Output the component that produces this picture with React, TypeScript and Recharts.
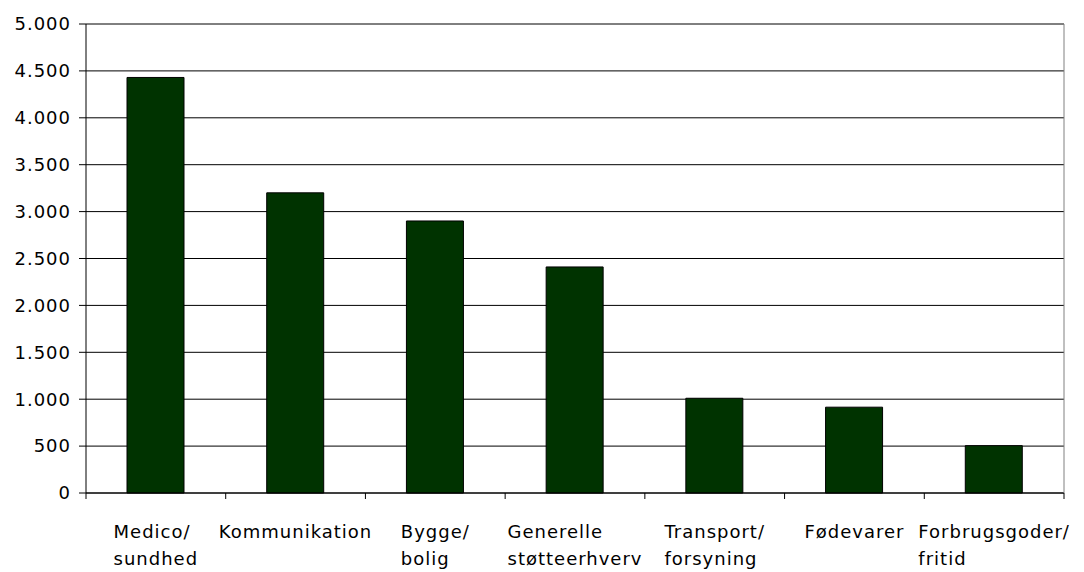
import { BarChart, Bar, XAxis, YAxis, CartesianGrid, ReferenceLine } from "recharts";

// kategorier, med linjeskift som i originalen
const categories = [
  "Medico/\nsundhed",
  "Kommunikation",
  "Bygge/\nbolig",
  "Generelle\nstøtteerhverv",
  "Transport/\nforsyning",
  "Fødevarer",
  "Forbrugsgoder/\nfritid",
];
const values = [4430, 3200, 2900, 2410, 1010, 915, 505];
const yTicks = [0, 500, 1000, 1500, 2000, 2500, 3000, 3500, 4000, 4500, 5000];

const W = 1084;
const H = 572;
const MARGIN = { top: 24, right: 0, bottom: 0, left: 0 };
const Y_WIDTH = 86;
const RIGHT_W = 20;
const FONT = "'DejaVu Sans', Verdana, sans-serif";
const FS = 18;
const LS = 1;

const data = categories.map((name, i) => ({ name, value: values[i] }));

const fmt = (v: number) => String(v).replace(/\B(?=(\d{3})+(?!\d))/g, ".");

let ctx: CanvasRenderingContext2D | null = null;
function textWidth(s: string) {
  if (!ctx) ctx = document.createElement("canvas").getContext("2d");
  if (!ctx) return s.length * FS * 0.6;
  ctx.font = `${FS}px ${FONT}`;
  return ctx.measureText(s).width + s.length * LS;
}

const band = (W - Y_WIDTH - RIGHT_W) / categories.length;

function CatTick(props: any) {
  const { x, y, payload, index } = props;
  const lines: string[] = String(payload.value).split("\n");
  const maxW = Math.max(...lines.map(textWidth));
  const left = x - maxW / 2;
  return (
    <g>
      <line x1={x - band / 2} x2={x - band / 2} y1={y} y2={y + 6} stroke="#000" />
      {index === categories.length - 1 && (
        <line x1={x + band / 2} x2={x + band / 2} y1={y} y2={y + 6} stroke="#000" />
      )}
      <text
        x={left}
        y={y + 45}
        textAnchor="start"
        fill="#000"
        style={{ fontFamily: FONT, fontSize: FS, letterSpacing: LS }}
      >
        {lines.map((l, i) => (
          <tspan key={i} x={left} dy={i === 0 ? 0 : 27}>
            {l}
          </tspan>
        ))}
      </text>
    </g>
  );
}

export default function App() {
  return (
    <div style={{ position: "absolute", left: 0, top: 0, width: W, height: H, background: "#fff" }}>
      <BarChart width={W} height={H} data={data} margin={MARGIN} barSize={57}>
        <CartesianGrid vertical={false} stroke="#000" />
        <XAxis
          dataKey="name"
          interval={0}
          height={79}
          axisLine={{ stroke: "#000" }}
          tickLine={false}
          tickSize={0}
          tickMargin={0}
          tick={<CatTick />}
        />
        <YAxis
          width={Y_WIDTH}
          domain={[0, 5000]}
          ticks={yTicks}
          interval={0}
          tickFormatter={fmt}
          axisLine={{ stroke: "#000" }}
          tickLine={{ stroke: "#000" }}
          tickSize={7}
          tickMargin={8}
          tick={{ fill: "#000", fontSize: FS, fontFamily: FONT, letterSpacing: LS }}
        />
        <YAxis
          yAxisId="r"
          orientation="right"
          width={RIGHT_W}
          domain={[0, 5000]}
          tick={false}
          tickLine={false}
          axisLine={{ stroke: "#808080" }}
        />
        <ReferenceLine y={5000} stroke="#808080" />
        <Bar dataKey="value" fill="#003300" stroke="#000" strokeWidth={1} isAnimationActive={false} />
      </BarChart>
    </div>
  );
}
